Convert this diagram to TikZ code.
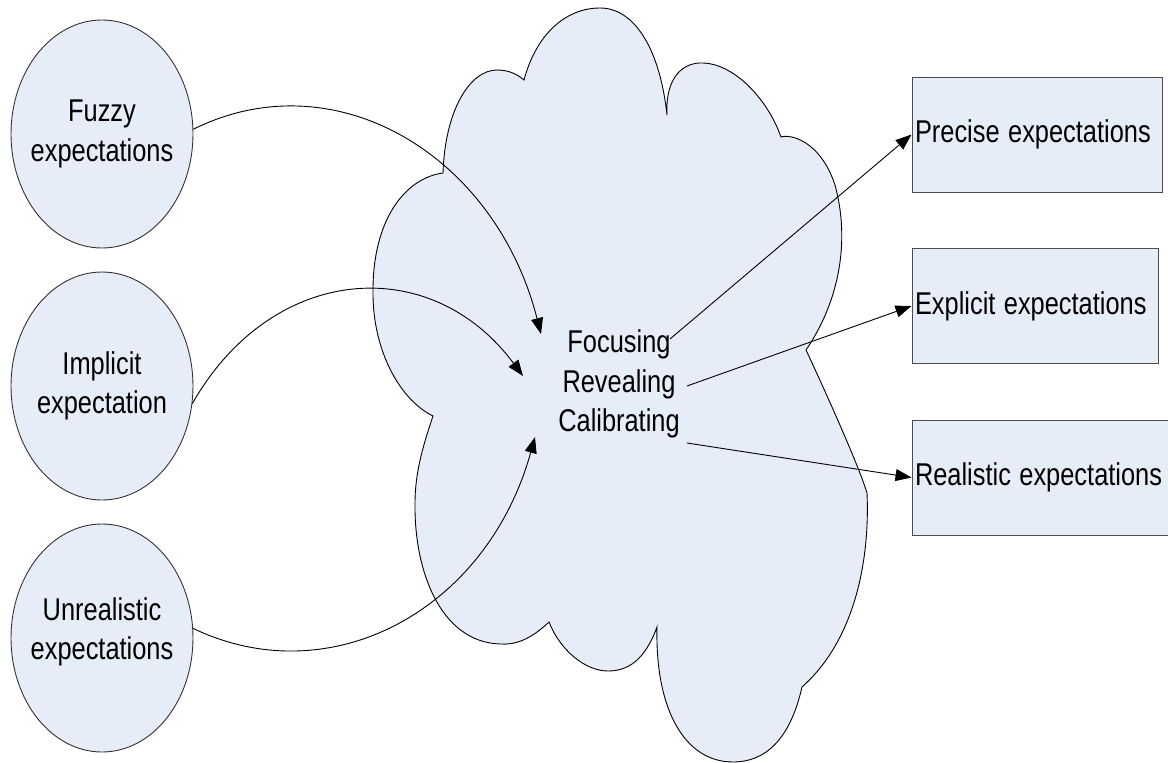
\documentclass[tikz,border=0pt]{standalone}
\usepackage{fontspec}
\setmainfont{Liberation Sans}
\usetikzlibrary{shapes.geometric,arrows.meta}
\definecolor{paleblue}{RGB}{230,236,248}
% tall, narrow lettering
\newcommand{\tallt}[1]{\scalebox{1}[1.24]{#1}}
\begin{document}
\begin{tikzpicture}[x=1pt,y=-1pt,
  every node/.style={font=\fontsize{25.4}{39.5}\selectfont},
  bubble/.style={ellipse, draw=black!80, line width=0.9pt, fill=paleblue,
    minimum width=182pt, minimum height=228pt, inner sep=0pt},
  bubbletext/.style={align=center, inner sep=0pt},
  outbox/.style={rectangle, draw=black!70, line width=1pt, fill=paleblue,
    minimum height=115pt, inner xsep=3pt, inner ysep=0pt, align=left},
  cloudshape/.style={draw=black, line width=0.9pt, fill=paleblue},
  flow/.style={line width=0.9pt, -{Triangle[length=16pt,width=12pt]}}]
\useasboundingbox (0,0) rectangle (1168,763);

% the cloud
\draw[cloudshape] (524,80)
  .. controls (536,35) and (565,8) .. (600,8)
  .. controls (635,8) and (660,50) .. (667,115)
  .. controls (665,75) and (685,62) .. (703,63)
  .. controls (735,64) and (768,100) .. (781,137)
  .. controls (790,134) and (820,140) .. (835,185)
  .. controls (850,240) and (840,300) .. (806,350)
  .. controls (814,367) and (857,460) .. (867,493)
  .. controls (870,560) and (855,640) .. (802,687)
  .. controls (790,740) and (765,762) .. (733,762)
  .. controls (685,762) and (655,710) .. (657,627)
  .. controls (645,660) and (628,671) .. (608,671)
  .. controls (585,671) and (560,650) .. (549,622)
  .. controls (530,640) and (515,645) .. (500,644)
  .. controls (440,642) and (414,570) .. (415,503)
  .. controls (415,470) and (425,440) .. (433,416)
  .. controls (400,400) and (372,350) .. (373,290)
  .. controls (373,220) and (405,178) .. (443,173)
  .. controls (445,110) and (470,70) .. (497,70)
  .. controls (510,70) and (518,75) .. (524,80) -- cycle;

\node[align=center, inner sep=0pt] (core) at (619,384)
  {\tallt{Focusing}\\\tallt{Revealing}\\\tallt{Calibrating}};

% inputs
\node[bubble, label={[bubbletext]center:{\tallt{Fuzzy}\\\tallt{expectations}}}]
  (fuzzy) at (102,134) {};
\node[bubble, label={[bubbletext]center:{\tallt{Implicit}\\\tallt{expectation}}}]
  (implicit) at (102,386) {};
\node[bubble, label={[bubbletext, yshift=6pt]center:{\tallt{Unrealistic}\\\tallt{expectations}}}]
  (unrealistic) at (102,638) {};

% outputs
\node[outbox, text width=244pt] (precise)   at (1037,134.5) {\tallt{Precise expectations}};
\node[outbox, text width=240pt] (explicit)  at (1035,306)   {\tallt{Explicit expectations}};
\node[outbox, text width=256pt] (realistic) at (1043,477.5) {\tallt{Realistic expectations}};

% arrow ends around the central text
\coordinate (inA)  at (541,334);
\coordinate (inB)  at (523,376);
\coordinate (inC)  at (535,437);
\coordinate (outA) at (670,339);
\coordinate (outB) at (687,386);
\coordinate (outC) at (687,443);

\draw[flow] (fuzzy.3) .. controls +(141,-70) and +(-46,-180) .. (inA);
\draw[flow] (implicit.-11) .. controls +(79,-139) and +(-93,-125) .. (inB);
\draw[flow] (unrealistic.6) .. controls +(138,66) and +(-48,173) .. (inC);

\draw[flow] (outA) -- (precise.west);
\draw[flow] (outB) -- (explicit.west);
\draw[flow] (outC) -- (realistic.west);
\end{tikzpicture}
\end{document}
